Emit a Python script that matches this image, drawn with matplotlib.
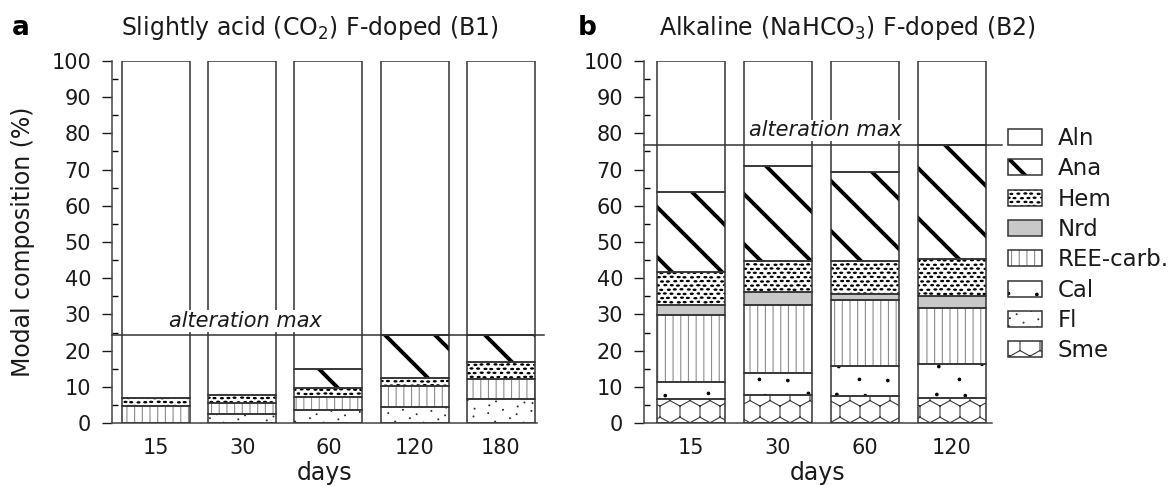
import numpy as np
import matplotlib
matplotlib.use("Agg")
import matplotlib.pyplot as plt
import matplotlib.hatch as mhatch
from matplotlib.path import Path
from matplotlib.patches import Patch
from matplotlib.legend_handler import HandlerTuple

plt.rcParams['font.family'] = ['DejaVu Sans']
plt.rcParams['hatch.linewidth'] = 0.8

# ---- data (modal composition, % per phase, stacked bottom -> top) ----
days_b1 = ["15", "30", "60", "120", "180"]
sme_b1 = [0.0, 0.0, 0.0, 0.0, 0.0]
fl_b1 = [0.0, 2.4, 3.6, 4.5, 6.5]
cal_b1 = [0.0, 0.0, 0.0, 0.0, 0.0]
ree_b1 = [4.7, 3.2, 3.7, 5.6, 5.6]
nrd_b1 = [0.0, 0.0, 0.0, 0.0, 0.0]
hem_b1 = [2.1, 2.0, 2.5, 2.2, 4.7]
ana_b1 = [0.0, 0.0, 5.0, 11.9, 7.4]
alt_max_b1 = 24.2

days_b2 = ["15", "30", "60", "120"]
sme_b2 = [6.6, 7.8, 7.4, 6.9]
fl_b2 = [0.0, 0.0, 0.0, 0.0]
cal_b2 = [4.6, 5.9, 8.4, 9.4]
ree_b2 = [18.6, 18.9, 18.2, 15.5]
nrd_b2 = [2.8, 3.7, 1.5, 3.4]
hem_b2 = [9.0, 8.5, 9.2, 10.1]
ana_b2 = [22.2, 26.1, 24.5, 31.6]
alt_max_b2 = 76.9

legend_order = ["Aln", "Ana", "Hem", "Nrd", "REE-carb.", "Cal", "Fl", "Sme"]


# ---- custom hatch tiles (unit square, repeated every inch) ----
def ellipse(cx, cy, a, b, n=12):
    t = np.linspace(0, 2 * np.pi, n, endpoint=False)
    return np.column_stack([cx + a * np.cos(t), cy + b * np.sin(t)])


def make_path(polys=(), segs=()):
    verts, codes = [], []
    for p in polys:
        verts += list(p) + [p[0]]
        codes += [Path.MOVETO] + [Path.LINETO] * (len(p) - 1) + [Path.CLOSEPOLY]
    for a, b in segs:
        verts += [a, b]
        codes += [Path.MOVETO, Path.LINETO]
    return np.array(verts, float), np.array(codes, Path.code_type)


def ana_tile():
    polys = []
    d = 0.014 * np.sqrt(2)
    for c in np.arange(-1.0, 3.01, 0.5):
        x0, x1 = -0.5, 1.5
        polys.append([(x0, c - x0 - d), (x1, c - x1 - d), (x1, c - x1 + d), (x0, c - x0 + d)])
    return make_path(polys=polys)


def hem_tile():
    polys = []
    nc, nr = 15, 24
    for j in range(-1, nr + 1):
        for i in range(-1, nc + 1):
            jx = 0.005 * np.sin(i * 2.3 + j * 1.7)
            jy = 0.003 * np.cos(i * 1.1 + j * 2.9)
            cx = (i + 0.5 * (j % 2) + 0.25) / nc + jx
            cy = (j + 0.5) / nr + jy
            polys.append(ellipse(cx, cy, 0.015, 0.0065))
    return make_path(polys=polys)


def ree_tile():
    n = 13
    segs = [(((i + 0.5) / n, -0.1), ((i + 0.5) / n, 1.1)) for i in range(n)]
    return make_path(segs=segs)


def dots_tile(n, r, seed_off):
    # R2 low-discrepancy layout, looks irregular but evenly spread
    g1, g2 = 0.7548776662, 0.5698402910
    polys = []
    for i in range(n):
        x = (seed_off + (i + 1) * g1) % 1.0
        y = (seed_off * 0.7 + (i + 1) * g2) % 1.0
        for ox in (-1, 0, 1):
            for oy in (-1, 0, 1):
                polys.append(ellipse(x + ox, y + oy, r, r, 10))
    return make_path(polys=polys)


def sme_tile():
    w, nrow = 0.2, 6
    r = (1.0 / nrow) / 1.5
    segs = []
    for j in range(-1, nrow + 2):
        for i in range(-1, 7):
            cx = (i + 0.5 * (j % 2)) * w
            cy = j / nrow + 0.05
            segs.append(((cx - w / 2, cy + r / 2), (cx, cy + r)))
            segs.append(((cx, cy + r), (cx + w / 2, cy + r / 2)))
            segs.append(((cx - w / 2, cy - r / 2), (cx - w / 2, cy + r / 2)))
    return make_path(segs=segs)


class TileHatch(mhatch.HatchPatternBase):
    char = None
    tile = None
    _cache = {}

    def __init__(self, hatch, density):
        self.num_vertices = 0
        if hatch and self.char in hatch:
            if self.char not in TileHatch._cache:
                TileHatch._cache[self.char] = self.tile()
            self.verts, self.codes = TileHatch._cache[self.char]
            self.num_vertices = len(self.verts)

    def set_vertices_and_codes(self, vertices, codes):
        vertices[:] = self.verts
        codes[:] = self.codes


def tile_class(ch, fn):
    return type("Tile_%d" % ord(ch), (TileHatch,), {"char": ch, "tile": staticmethod(fn)})


mhatch._hatch_types = [
    tile_class("\\", ana_tile),
    tile_class("O", hem_tile),
    tile_class("|", ree_tile),
    tile_class("o", lambda: dots_tile(20, 0.013, 0.31)),
    tile_class(".", lambda: dots_tile(90, 0.0045, 0.57)),
    tile_class("x", sme_tile),
]

# style per phase: facecolor, hatch, hatch colour
styles = {
    "Aln": ("white", None, "#333333"),
    "Ana": ("white", "\\", "black"),
    "Hem": ("white", "O", "black"),
    "Nrd": ("#c8c8c8", None, "#333333"),
    "REE-carb.": ("white", "|", "#8c8c8c"),
    "Cal": ("white", "o", "black"),
    "Fl": ("white", ".", "#333333"),
    "Sme": ("white", "x", "#3a3a3a"),
}
outline = "#333333"
txt = "#1a1a1a"

fig = plt.figure(figsize=(11.71, 4.86), dpi=100)
W, H = 1171, 486
ax1 = fig.add_axes([112 / W, 1 - 423 / H, 425 / W, 362 / H])
ax2 = fig.add_axes([644 / W, 1 - 423 / H, 348 / W, 362 / H])


def draw_panel(ax, days, layers, alt_max, xlim, alt_x, line_end):
    x = np.arange(len(days))
    bottom = np.zeros(len(days))
    for name, vals in layers:
        vals = np.asarray(vals, float)
        fc, hatch, hc = styles[name]
        m = vals > 0
        ax.bar(x[m], vals[m], 0.79, bottom=bottom[m], facecolor=fc,
               edgecolor=hc, hatch=hatch, linewidth=0, zorder=2)
        ax.bar(x[m], vals[m], 0.79, bottom=bottom[m], fill=False,
               edgecolor=outline, linewidth=1.1, zorder=3)
        bottom += vals
    ax.set_xlim(*xlim)
    ax.set_ylim(0, 100)
    ax.set_xticks(x)
    ax.set_xticklabels(days)
    ax.set_yticks(np.arange(0, 101, 10))
    ax.set_yticks(np.arange(5, 100, 10), minor=True)
    ax.tick_params(axis="x", length=0, pad=11, labelsize=15, colors=txt)
    ax.tick_params(axis="y", which="major", length=7, width=1, pad=8,
                   labelsize=15, colors=txt)
    ax.tick_params(axis="y", which="minor", length=4, width=1, direction="in")
    for s in ("top", "right"):
        ax.spines[s].set_visible(False)
    for s in ("left", "bottom"):
        ax.spines[s].set_color("#444444")
        ax.spines[s].set_linewidth(1.1)
    ax.axhline(alt_max, 0, line_end, color="#333333", lw=1.1, clip_on=False, zorder=4)
    ax.text(alt_x, alt_max + 1.2, "alteration max", style="italic", fontsize=15,
            ha="center", va="bottom", color=txt, zorder=5,
            bbox=dict(facecolor="white", edgecolor="none", pad=0.5))
    ax.set_xlabel("days", fontsize=17, labelpad=2, color=txt)


def total_aln(*cols):
    return list(100 - np.sum(cols, axis=0))


layers_b1 = [("Sme", sme_b1), ("Fl", fl_b1), ("Cal", cal_b1), ("REE-carb.", ree_b1),
             ("Nrd", nrd_b1), ("Hem", hem_b1), ("Ana", ana_b1)]
layers_b1.append(("Aln", total_aln(*[v for _, v in layers_b1])))
layers_b2 = [("Sme", sme_b2), ("Fl", fl_b2), ("Cal", cal_b2), ("REE-carb.", ree_b2),
             ("Nrd", nrd_b2), ("Hem", hem_b2), ("Ana", ana_b2)]
layers_b2.append(("Aln", total_aln(*[v for _, v in layers_b2])))

draw_panel(ax1, days_b1, layers_b1, alt_max_b1, (-0.51, 4.42), 1.04, 1.016)
draw_panel(ax2, days_b2, layers_b2, alt_max_b2, (-0.54, 3.46), 1.54, 1.029)

fig.text(23 / W, 1 - 242 / H, "Modal composition (%)", rotation=90, fontsize=17,
         ha="center", va="center", color=txt)
fig.text(12 / W, 1 - 28 / H, "a", fontsize=19, fontweight="bold", va="center", color="black")
fig.text(578 / W, 1 - 28 / H, "b", fontsize=19, fontweight="bold", va="center", color="black")
fig.text(121 / W, 1 - 28 / H, "Slightly acid (CO$_2$) F-doped (B1)", fontsize=17,
         va="center", color=txt)
fig.text(659 / W, 1 - 28 / H, "Alkaline (NaHCO$_3$) F-doped (B2)", fontsize=17,
         va="center", color=txt)

# legend, top to bottom
handles = []
for name in legend_order:
    fc, hatch, hc = styles[name]
    h1 = Patch(facecolor=fc, edgecolor=hc, hatch=hatch, linewidth=0)
    h2 = Patch(fill=False, edgecolor=outline, linewidth=1.1)
    handles.append((h1, h2))
fig.legend(handles, legend_order, loc="upper left", bbox_to_anchor=(1008 / W, 1 - 127 / H),
           frameon=False, fontsize=16.5, handlelength=1.48, handleheight=0.7,
           handletextpad=0.7, labelspacing=0.32, borderpad=0, borderaxespad=0,
           labelcolor=txt, handler_map={tuple: HandlerTuple(ndivide=1, pad=0)})

fig.savefig("out.png", dpi=100)
